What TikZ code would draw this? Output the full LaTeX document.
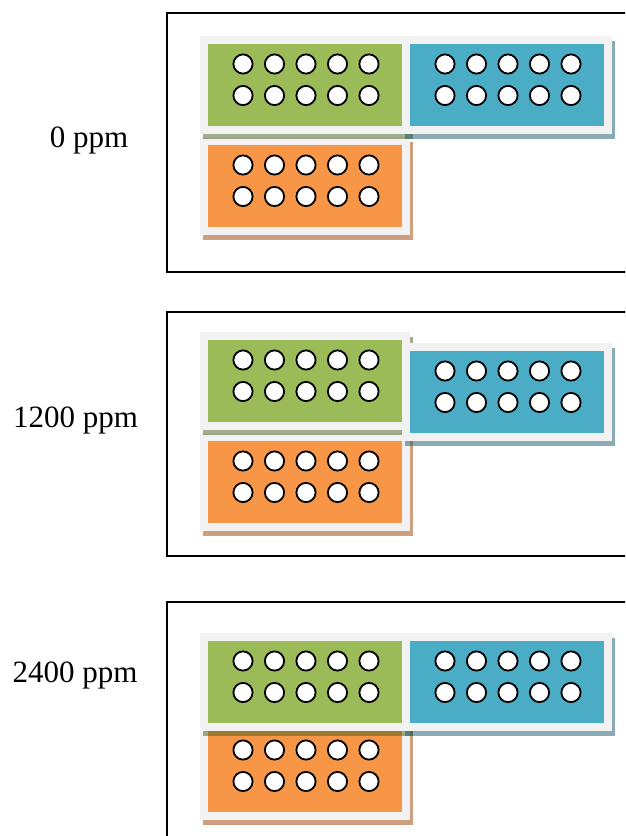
\documentclass[tikz,border=0pt]{standalone}
\usepackage{fontspec}
\setmainfont{Liberation Serif}
\definecolor{platebg}{HTML}{F2F2F2}
\definecolor{pgreen}{HTML}{9BBB59}
\definecolor{pblue}{HTML}{4BACC6}
\definecolor{porange}{HTML}{F79646}
\definecolor{sgreen}{HTML}{455B1B}
\definecolor{sblue}{HTML}{17576B}
\definecolor{sorange}{HTML}{9F4100}
\tikzset{
  frame/.style={draw=black, line width=2pt},
  hole/.style={draw=black, fill=white, line width=1.8pt},
  lbl/.style={anchor=base, inner sep=0pt, font=\fontsize{31}{37}\selectfont},
  pics/plate/.style n args={2}{code={
    \fill[fill=#2, fill opacity=0.5] (3,5) rectangle (213,103);
    \fill[platebg] (0,0) rectangle (210,98);
    \fill[#1] (8,8) rectangle (202,90);
    \foreach \i in {0,...,4}{
      \foreach \j in {0,1}{
        \draw[hole] ({43+31.5*\i},{28+31.5*\j}) circle[radius=9.6pt];
      }
    }
  }}
}
\begin{document}
\begin{tikzpicture}[x=1pt,y=-1pt]
\useasboundingbox (0,0) rectangle (625,836);
\clip (0,0) rectangle (625,836);
\fill[white] (0,0) rectangle (625,836);
% panel 1
\draw[frame] (167,13) rectangle (640,272);
\pic at (200,137) {plate={porange}{sorange}};
\pic at (200,36) {plate={pgreen}{sgreen}};
\pic at (402,36) {plate={pblue}{sblue}};
\node[lbl] (l1) at (89,147) {0 ppm};
% panel 2
\draw[frame] (167,312) rectangle (640,556);
\pic at (200,433) {plate={porange}{sorange}};
\pic at (200,332) {plate={pgreen}{sgreen}};
\pic at (402,343) {plate={pblue}{sblue}};
\node[lbl] (l2) at (75.5,427) {1200 ppm};
% panel 3
\draw[frame] (167,602) rectangle (640,860);
\pic at (200,722) {plate={porange}{sorange}};
\pic at (200,633) {plate={pgreen}{sgreen}};
\pic at (402,633) {plate={pblue}{sblue}};
\node[lbl] (l3) at (75,682) {2400 ppm};
\end{tikzpicture}
\end{document}
